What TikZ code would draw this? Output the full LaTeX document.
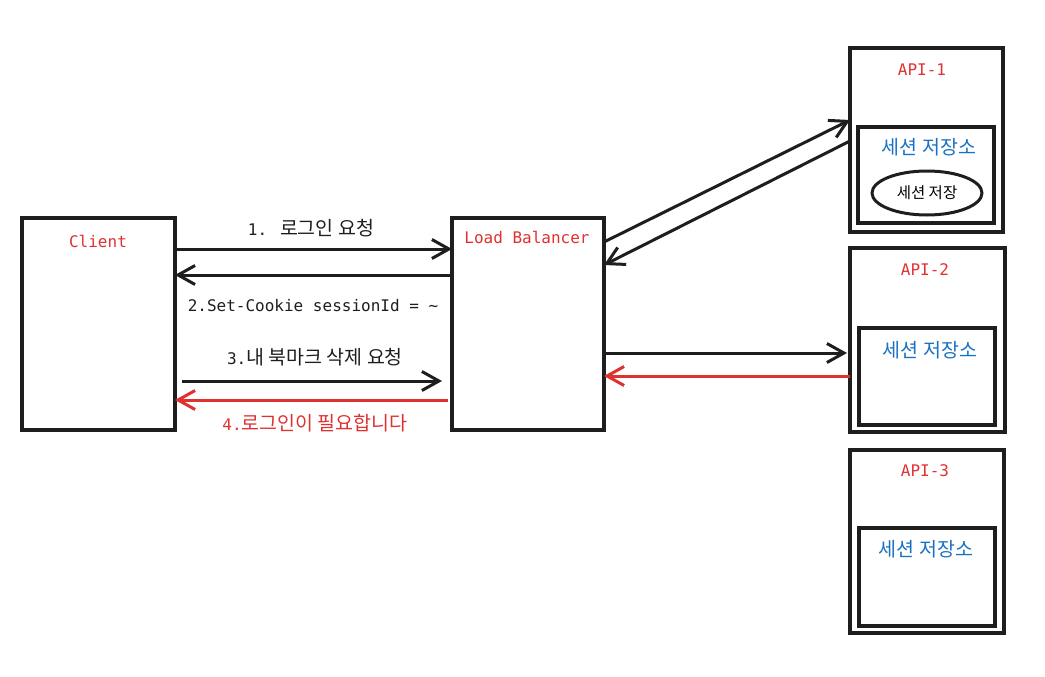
\documentclass[tikz,border=0pt]{standalone}
\usepackage{fontspec}
\setmainfont{DejaVu Sans Mono}
\newfontfamily\kr{Noto Sans CJK KR}
\usetikzlibrary{arrows.meta,shapes.geometric}
\definecolor{inkblack}{HTML}{1E1E1E}
\definecolor{inkred}{HTML}{E03131}
\definecolor{inkblue}{HTML}{1971C2}
\tikzset{
  box/.style={draw=inkblack, line width=3.4pt, anchor=north west, inner sep=0pt, outer sep=0pt},
  redtext/.style={text=inkred, font=\fontsize{16}{19}\selectfont},
  bluetext/.style={text=inkblue, font=\fontsize{19.5}{22}\kr},
  msgtext/.style={text=inkblack, font=\fontsize{16}{19}\selectfont},
  link/.style={draw=inkblack, line width=3pt, -{Straight Barb[length=17pt,width=19pt,line width=3pt]}},
  redlink/.style={link, draw=inkred}
}
\begin{document}
\begin{tikzpicture}[x=1pt,y=-1pt]
\useasboundingbox (0,0) rectangle (1045,677);

% client and load balancer
\node[box, minimum width=153pt, minimum height=212pt] (client) at (22,218) {};
\node[redtext] (clientlbl) at (98,241) {Client};
\node[box, minimum width=152pt, minimum height=212pt] (lb) at (452,218) {};
\node[redtext] (lblbl) at (527,237) {Load Balancer};

% api servers
\node[box, minimum width=153pt, minimum height=184pt] (api1) at (850,48) {};
\node[redtext] (api1lbl) at (922,70) {API-1};
\node[box, minimum width=136pt, minimum height=96pt] (store1) at (858,127) {};
\node[bluetext] (store1lbl) at (929,147) {세션 저장소};
\node[ellipse, draw=inkblack, line width=3pt, minimum width=110pt, minimum height=44pt, inner sep=0pt,
  font=\fontsize{15.5}{18}\kr] (save1) at (927,193) {세션 저장};

\node[box, minimum width=155pt, minimum height=184pt] (api2) at (850,248) {};
\node[redtext] (api2lbl) at (925,270) {API-2};
\node[box, minimum width=136pt, minimum height=97pt] (store2) at (859,328) {};
\node[bluetext] (store2lbl) at (930,350) {세션 저장소};

\node[box, minimum width=154pt, minimum height=183pt] (api3) at (850,450) {};
\node[redtext] (api3lbl) at (925,471) {API-3};
\node[box, minimum width=136pt, minimum height=98pt] (store3) at (859,528) {};
\node[bluetext] (store3lbl) at (926,549) {세션 저장소};

% client <-> load balancer
\draw[link] (client.east |- 0,249) -- (lb.west |- 0,249);
\node[msgtext] (msg1) at (311,228) {1. {\fontsize{19.5}{22}\kr 로그인 요청}};
\draw[link] (lb.west |- 0,275) -- (client.east |- 0,275);
\node[msgtext] (msg2) at (313,306) {2.Set-Cookie sessionId = \textasciitilde};
\draw[link] ([xshift=7pt]client.east |- 0,381) -- ([xshift=-10pt]lb.west |- 0,381);
\node[msgtext] (msg3) at (315,357) {3.{\fontsize{19.5}{22}\kr 내 북마크 삭제 요청}};
\draw[redlink] ([xshift=-4pt]lb.west |- 0,400) -- (client.east |- 0,400);
\node[msgtext, text=inkred] (msg4) at (315,423) {4.{\fontsize{19.5}{22}\kr 로그인이 필요합니다}};

% load balancer <-> api servers
\draw[link] (lb.east |- 0,242) -- (api1.west |- 0,120);
\draw[link] (api1.west |- 0,141) -- (lb.east |- 0,265);
\draw[link] (lb.east |- 0,353) -- ([xshift=-3pt]api2.west |- 0,353);
\draw[redlink] (api2.west |- 0,376) -- (lb.east |- 0,376);
\end{tikzpicture}
\end{document}
